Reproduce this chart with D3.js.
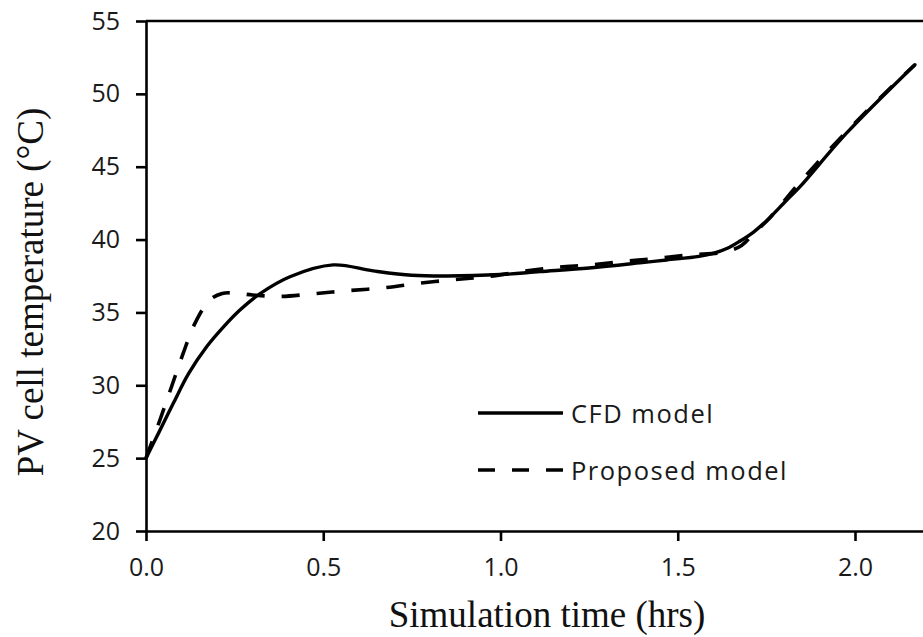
<!DOCTYPE html>
<html>
<head>
<meta charset="utf-8">
<script src="https://cdn.jsdelivr.net/npm/d3@7/dist/d3.min.js"></script>
<style>
  html, body { margin: 0; padding: 0; background: #fff; overflow: hidden; }
  svg { display: block; }
</style>
</head>
<body>
<svg id="chart" width="923" height="637"></svg>
<script>
// PV cell temperature over simulation time, CFD vs proposed model
const cfdTime = [0, 0.035, 0.077, 0.12, 0.171, 0.22, 0.265, 0.32, 0.406, 0.528, 0.641, 0.75, 0.85,
                 1.0, 1.111, 1.25, 1.393, 1.469, 1.56, 1.6, 1.64, 1.676, 1.713, 1.751, 1.807, 1.845, 1.976, 2.169];
const cfdTemp = [25, 26.7, 28.76, 30.8, 32.65, 34.05, 35.17, 36.26, 37.45, 38.26, 37.85, 37.55, 37.5,
                 37.6, 37.8, 38.05, 38.4, 38.6, 38.85, 39.05, 39.4, 39.9, 40.5, 41.3, 42.7, 43.63, 47.3, 52.0];

const propTime = [0, 0.039, 0.072, 0.105, 0.138, 0.18, 0.215, 0.25, 0.3, 0.378, 0.48, 0.573, 0.676, 0.77, 0.87, 0.96,
                  1.06, 1.159, 1.252, 1.346, 1.44, 1.535, 1.633, 1.68, 1.713, 1.76, 1.845, 1.976, 2.108, 2.169];
const propTemp = [25, 27.6, 29.9, 32.2, 34.25, 35.85, 36.3, 36.33, 36.2, 36.1, 36.3, 36.5, 36.7, 37.0, 37.25, 37.45,
                  37.8, 38.1, 38.26, 38.5, 38.7, 38.95, 39.15, 39.6, 40.4, 41.5, 43.95, 47.4, 50.6, 52.0];

const xTicks = [0, 0.5, 1.0, 1.5, 2.0];
const yTicks = [20, 25, 30, 35, 40, 45, 50, 55];

const seriesNames = ["CFD model", "Proposed model"];
const xTitle = "Simulation time (hrs)";
const yTitle = "PV cell temperature (°C)";

const svg = d3.select("#chart");
const plotLeft = 146, plotTop = 21, plotBottom = 531;

const x = d3.scaleLinear().domain([0, 2.25]).range([plotLeft, plotLeft + 2.25 * 354.5]);
const y = d3.scaleLinear().domain([20, 55]).range([plotBottom, plotTop]);

const tickFont = "'Open Sans', 'Noto Sans', sans-serif";
const serif = "'Liberation Serif', 'Times New Roman', serif";

// axes
const xAxis = d3.axisBottom(x).tickValues(xTicks).tickFormat(d3.format(".1f"))
  .tickSize(10).tickPadding(17).tickSizeOuter(0);
const yAxis = d3.axisLeft(y).tickValues(yTicks).tickFormat(d3.format("d"))
  .tickSize(10).tickPadding(16).tickSizeOuter(0);

const gx = svg.append("g").attr("transform", `translate(0,${plotBottom})`).call(xAxis);
const gy = svg.append("g").attr("transform", `translate(${plotLeft},0)`).call(yAxis);

[gx, gy].forEach(g => {
  g.select(".domain").attr("stroke", "#000").attr("stroke-width", 2.6);
  g.selectAll(".tick line").attr("stroke", "#000").attr("stroke-width", 2.6);
  g.selectAll(".tick text").attr("font-family", tickFont).attr("font-size", 25)
    .attr("fill", "#1a1a1a");
});

// top border of the plot area
svg.append("line")
  .attr("x1", plotLeft).attr("x2", x.range()[1])
  .attr("y1", plotTop).attr("y2", plotTop)
  .attr("stroke", "#000").attr("stroke-width", 2.6);

// series lines
const line = d3.line().x(d => x(d[0])).y(d => y(d[1])).curve(d3.curveCatmullRom.alpha(0.5));
const cfd = cfdTime.map((t, i) => [t, cfdTemp[i]]);
const prop = propTime.map((t, i) => [t, propTemp[i]]);

svg.append("path").datum(prop)
  .attr("d", line).attr("fill", "none").attr("stroke", "#000")
  .attr("stroke-width", 3.6).attr("stroke-dasharray", "18,17");

svg.append("path").datum(cfd)
  .attr("d", line).attr("fill", "none").attr("stroke", "#000")
  .attr("stroke-width", 3.4).attr("stroke-linecap", "round");

// legend
const legend = svg.append("g");
const legendRows = [
  { name: seriesNames[0], y: 413, dash: null },
  { name: seriesNames[1], y: 470, dash: "17,17" }
];
legendRows.forEach(r => {
  legend.append("line")
    .attr("x1", 478).attr("x2", 563).attr("y1", r.y).attr("y2", r.y)
    .attr("stroke", "#000").attr("stroke-width", 3.6)
    .attr("stroke-dasharray", r.dash);
  legend.append("text")
    .attr("x", 571).attr("y", r.y + 9.5)
    .attr("font-family", tickFont).attr("font-size", 25.5)
    .attr("letter-spacing", 1.5)
    .attr("fill", "#1a1a1a")
    .text(r.name);
});

// axis titles
svg.append("text")
  .attr("x", 547).attr("y", 627)
  .attr("text-anchor", "middle")
  .attr("font-family", serif).attr("font-size", 37)
  .attr("fill", "#111")
  .text(xTitle);

svg.append("text")
  .attr("transform", "translate(43,292) rotate(-90)")
  .attr("text-anchor", "middle")
  .attr("font-family", serif).attr("font-size", 37)
  .attr("fill", "#111")
  .text(yTitle);
</script>
</body>
</html>
